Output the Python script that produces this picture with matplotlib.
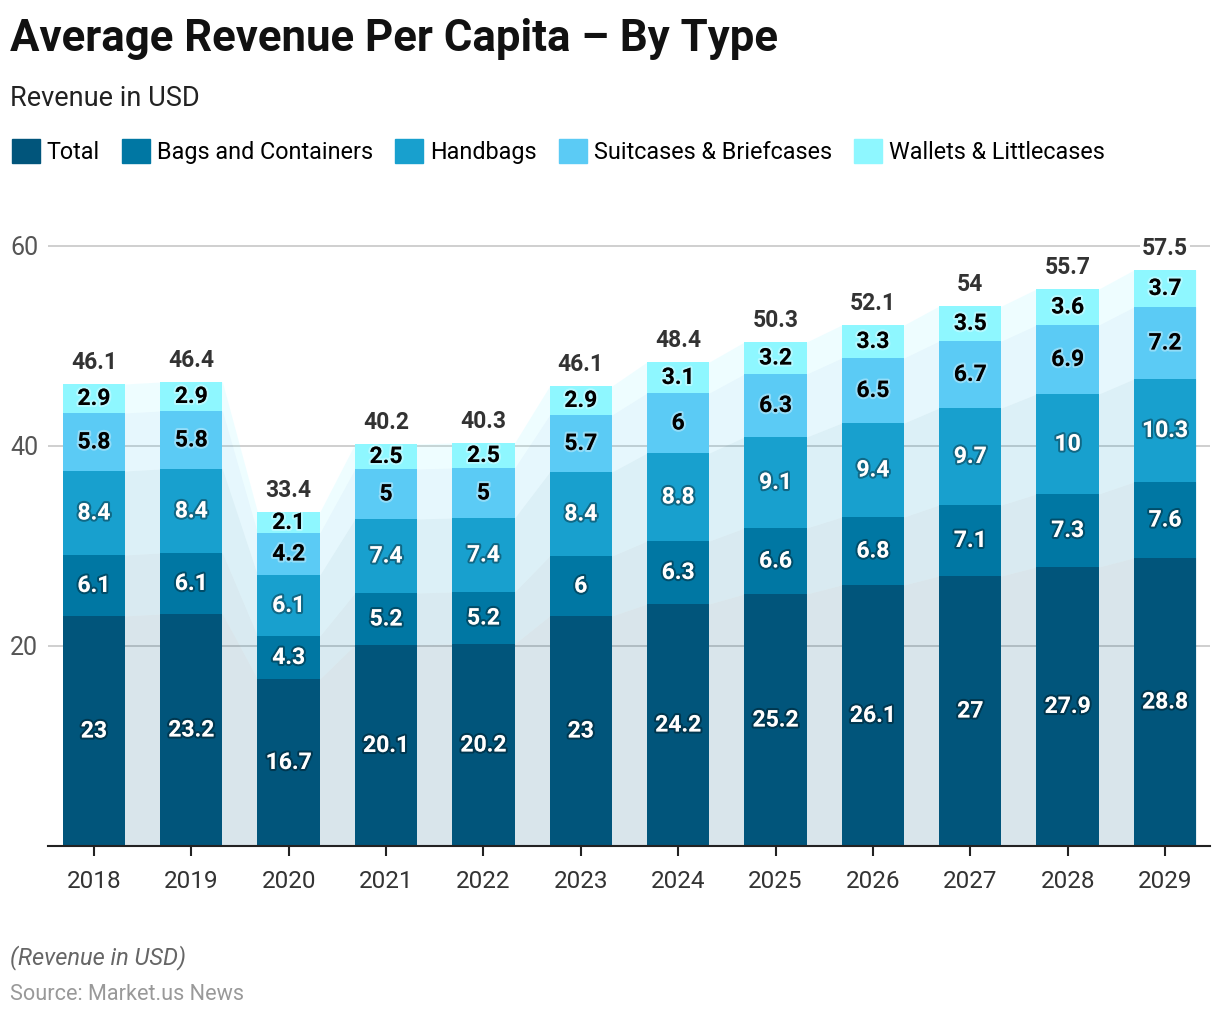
import matplotlib
matplotlib.use('Agg')
import matplotlib.pyplot as plt
import matplotlib.patheffects as pe
from matplotlib.patches import Patch
import numpy as np

plt.rcParams['font.family'] = ['Roboto', 'DejaVu Sans']

# 数据
years = ['2018', '2019', '2020', '2021', '2022', '2023', '2024', '2025', '2026', '2027', '2028', '2029']
series_names = ['Total', 'Bags and Containers', 'Handbags', 'Suitcases & Briefcases', 'Wallets & Littlecases']
total = [23, 23.2, 16.7, 20.1, 20.2, 23, 24.2, 25.2, 26.1, 27, 27.9, 28.8]
bags = [6.1, 6.1, 4.3, 5.2, 5.2, 6, 6.3, 6.6, 6.8, 7.1, 7.3, 7.6]
handbags = [8.4, 8.4, 6.1, 7.4, 7.4, 8.4, 8.8, 9.1, 9.4, 9.7, 10, 10.3]
suitcases = [5.8, 5.8, 4.2, 5, 5, 5.7, 6, 6.3, 6.5, 6.7, 6.9, 7.2]
wallets = [2.9, 2.9, 2.1, 2.5, 2.5, 2.9, 3.1, 3.2, 3.3, 3.5, 3.6, 3.7]
sums = [46.1, 46.4, 33.4, 40.2, 40.3, 46.1, 48.4, 50.3, 52.1, 54, 55.7, 57.5]

colors = ['#01557b', '#0077a3', '#18a0ce', '#5bcbf5', '#8ef7ff']
label_colors = ['white', 'white', 'white', 'black', 'black']

fig = plt.figure(figsize=(12.2, 10.18), dpi=100)
ax = fig.add_axes([0.0393, 0.169, 0.9525, 0.609])

x = np.arange(len(years))
w = 0.64
layers = [total, bags, handbags, suitcases, wallets]
bottom = np.zeros(len(years))

# 柱子之间的连接带
xs = np.ravel(np.column_stack([x - w / 2, x + w / 2]))
for k, vals in enumerate(layers):
    vals = np.array(vals, dtype=float)
    top = bottom + vals
    ax.fill_between(xs, np.repeat(bottom, 2), np.repeat(top, 2), color=colors[k],
                    alpha=0.15, linewidth=0, zorder=1)
    ax.bar(x, vals, w, bottom=bottom, color=colors[k], zorder=2, label=series_names[k])
    for i in range(len(years)):
        if label_colors[k] == 'white':
            eff = [pe.withStroke(linewidth=3, foreground=(0, 0, 0, 0.35))]
        else:
            eff = [pe.withStroke(linewidth=3, foreground=(1, 1, 1, 0.35))]
        ax.text(x[i], bottom[i] + vals[i] / 2, f'{vals[i]:g}', ha='center', va='center',
                color=label_colors[k], fontsize=16.5, fontweight='bold', zorder=4,
                path_effects=eff)
    bottom = top

for i in range(len(years)):
    ax.annotate(f'{sums[i]:g}', (x[i], bottom[i]), xytext=(0, 7), textcoords='offset points',
                ha='center', va='bottom', fontsize=16.5, fontweight='bold', color='#333333',
                zorder=5, bbox=dict(boxstyle='square,pad=0.1', fc='white', ec='none'))

ax.set_xlim(-0.472, 11.462)
ax.set_ylim(0, 62)
ax.set_yticks([20, 40, 60])
ax.set_xticks(x)
ax.set_xticklabels(years)
ax.grid(axis='y', color='#cccccc', linewidth=1.3, zorder=0)
ax.set_axisbelow(True)
for s in ['top', 'right', 'left']:
    ax.spines[s].set_visible(False)
ax.spines['bottom'].set_color('#222222')
ax.spines['bottom'].set_linewidth(1.5)
ax.tick_params(axis='y', length=0, labelsize=18, labelcolor='#555555', pad=7)
ax.tick_params(axis='x', length=7, width=1.5, color='#222222', labelsize=17.5,
               labelcolor='#333333', pad=10)

# 标题
fig.text(0.008, 1 - 51 / 1018, 'Average Revenue Per Capita – By Type', fontsize=31.5,
         fontweight='bold', color='#111111', va='baseline', ha='left')
fig.text(0.008, 1 - 106 / 1018, 'Revenue in USD', fontsize=19.5, color='#222222',
         va='baseline', ha='left')

handles = [Patch(color=c) for c in colors]
fig.legend(handles, series_names, loc='center left', bbox_to_anchor=(0.0, 0.851), ncol=5,
           frameon=False, fontsize=16.8, handlelength=1.2, handleheight=1.2,
           handletextpad=0.3, columnspacing=0.95, borderpad=0, borderaxespad=0.5)

fig.text(0.008, 1 - 964 / 1018, '(Revenue in USD)', fontsize=17, style='italic',
         color='#666666', va='baseline', ha='left')
fig.text(0.008, 1 - 1000 / 1018, 'Source: Market.us News', fontsize=15.6, color='#999999',
         va='baseline', ha='left')

plt.savefig('out.png', dpi=100)
